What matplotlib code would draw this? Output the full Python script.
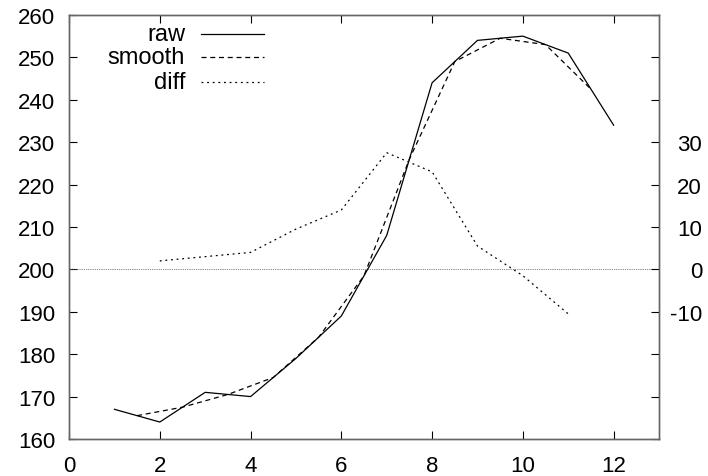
import matplotlib
matplotlib.use("Agg")
import matplotlib.pyplot as plt
from matplotlib.lines import Line2D

plt.rcParams['font.family'] = ['Liberation Sans', 'DejaVu Sans']

# data
raw_x = [1, 2, 3, 4, 5, 6, 7, 8, 9, 10, 11, 12]
raw_y = [167, 164, 171, 170, 179, 189, 208, 244, 254, 255, 251, 234]
smooth_x = [1.5, 2.5, 3.5, 4.5, 5.5, 6.5, 7.5, 8.5, 9.5, 10.5, 11.5]
smooth_y = [165.5, 167.5, 170.5, 174.5, 184, 198.5, 226, 249, 254.5, 253, 242.5]
diff_x = [2, 3, 4, 5, 6, 7, 8, 9, 10, 11]
diff_y = [2, 3, 4, 9.5, 14, 27.5, 23, 5.5, -1.5, -10.5]

x_ticks = [0, 2, 4, 6, 8, 10, 12]
y_ticks = [160, 170, 180, 190, 200, 210, 220, 230, 240, 250, 260]
y2_ticks = [-40, -30, -20, -10, 0, 10, 20, 30, 40, 50, 60]
y2_labels = ['', '', '', '-10', '0', '10', '20', '30', '', '', '']

fig = plt.figure(figsize=(7.08, 4.77), dpi=100)
ax = fig.add_axes([0.0975, 0.0776, 0.8333, 0.889])
ax2 = ax.twinx()

lw = 0.9
ax.axhline(200, color='#555555', lw=0.6, ls=(0, (1, 1.2)))
ax.plot(raw_x, raw_y, color='black', lw=lw, ls='-')
ax.plot(smooth_x, smooth_y, color='black', lw=lw, ls=(0, (4, 3)))
ax2.plot(diff_x, diff_y, color='black', lw=lw, ls=(0, (1.5, 3)))

ax.set_xlim(0, 13)
ax.set_ylim(160, 260)
ax2.set_ylim(-40, 60)
ax.set_xticks(x_ticks)
ax.set_yticks(y_ticks)
ax2.set_yticks(y2_ticks)
ax2.set_yticklabels(y2_labels, ha='right')

for a in (ax, ax2):
    for s in a.spines.values():
        s.set_color('#666666')
        s.set_linewidth(1.0)
ax.tick_params(axis='x', direction='in', length=6, width=0.8, labelsize=16, top=True, pad=11.5)
ax.tick_params(axis='y', direction='in', length=6, width=0.8, labelsize=16, pad=10)
ax2.tick_params(direction='in', length=6, width=0.8, labelsize=16, pad=31)

# key, drawn in axes coordinates
key = [('raw', '-'), ('smooth', (0, (4, 3))), ('diff', (0, (1.5, 3)))]
rows = [0.955, 0.901, 0.842]
for (name, style), yy in zip(key, rows):
    ax.text(0.1966, yy, name, transform=ax.transAxes, ha='right', va='center', fontsize=17)
    ax.add_line(Line2D([0.2237, 0.3305], [yy, yy], transform=ax.transAxes,
                       color='black', lw=lw, ls=style))

fig.savefig('out.png', dpi=100)
